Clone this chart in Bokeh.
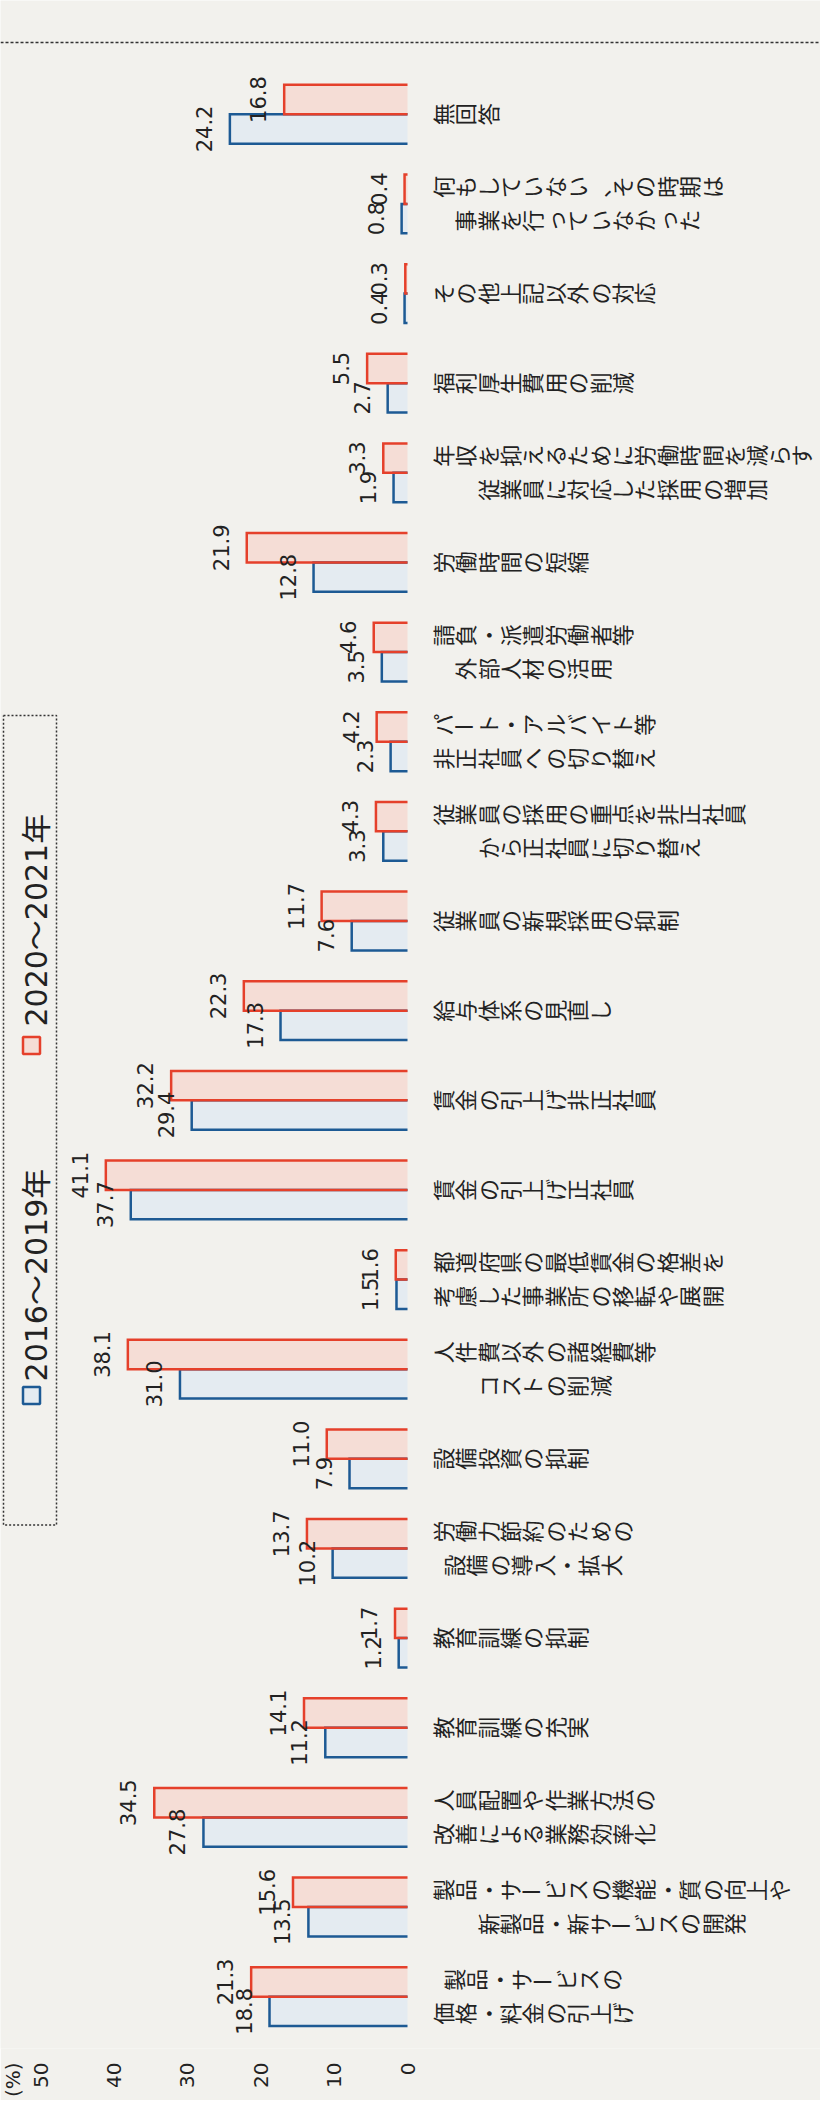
import math
from bokeh.plotting import figure
from bokeh.models import Range1d, FixedTicker, Span
from bokeh.core.properties import value
from bokeh.embed import file_html
from bokeh.resources import INLINE

# ---------------- data ----------------
label_lines = [
    ["製品・サービスの", "価格・料金の引上げ"],
    ["製品・サービスの機能・質の向上や", "新製品・新サービスの開発"],
    ["人員配置や作業方法の", "改善による業務効率化"],
    ["教育訓練の充実"],
    ["教育訓練の抑制"],
    ["労働力節約のための", "設備の導入・拡大"],
    ["設備投資の抑制"],
    ["人件費以外の諸経費等", "コストの削減"],
    ["都道府県の最低賃金の格差を", "考慮した事業所の移転や展開"],
    ["賃金の引上げ正社員"],
    ["賃金の引上げ非正社員"],
    ["給与体系の見直し"],
    ["従業員の新規採用の抑制"],
    ["従業員の採用の重点を非正社員", "から正社員に切り替え"],
    ["パート・アルバイト等", "非正社員への切り替え"],
    ["請負・派遣労働者等", "外部人材の活用"],
    ["労働時間の短縮"],
    ["年収を抑えるために労働時間を減らす", "従業員に対応した採用の増加"],
    ["福利厚生費用の削減"],
    ["その他上記以外の対応"],
    ["何もしていない、その時期は", "事業を行っていなかった"],
    ["無回答"],
]
v2016_2019 = [18.8, 13.5, 27.8, 11.2, 1.2, 10.2, 7.9, 31.0, 1.5, 37.7, 29.4,
              17.3, 7.6, 3.3, 2.3, 3.5, 12.8, 1.9, 2.7, 0.4, 0.8, 24.2]
v2020_2021 = [21.3, 15.6, 34.5, 14.1, 1.7, 13.7, 11.0, 38.1, 1.6, 41.1, 32.2,
              22.3, 11.7, 4.3, 4.2, 4.6, 21.9, 3.3, 5.5, 0.3, 0.4, 16.8]
tick_values = [0, 10, 20, 30, 40, 50]
unit_label = "(%)"
legend_labels = ["2016〜2019年", "2020〜2021年"]

# ---------------- layout constants ----------------
W, H = 820, 2100
FRAME_H = 2054
PX_X = 7.34      # px per percent
PX_Y = 89.9      # px per category
ZERO_PX = 407    # frame px of value 0
CAT0_PX = 2002   # frame px of first category centre

x_start = ZERO_PX / PX_X
x_end = -(W - ZERO_PX) / PX_X
y_top = CAT0_PX / PX_Y
y_bot = y_top - FRAME_H / PX_Y


def dx(px):
    return (ZERO_PX - px) / PX_X


def dy(py):
    return y_top - py / PX_Y


BG = "#f2f1ed"
RED_LINE = "#e5402b"
RED_FILL = "#f5ddd6"
BLUE_LINE = "#1d5a94"
BLUE_FILL = "#e4ebf1"
TXT = "#222222"
NUM_FONT = value("DejaVu Sans")
JP_FONT = value("Noto Sans CJK JP")

p = figure(width=W, height=H, output_backend="svg", toolbar_location=None,
           x_range=Range1d(x_start, x_end), y_range=Range1d(y_bot, y_top),
           x_axis_location="below", y_axis_location=None,
           min_border_left=0, min_border_right=0, min_border_top=0,
           min_border_bottom=H - FRAME_H)
p.background_fill_color = BG
p.border_fill_color = BG
p.outline_line_color = None
p.grid.visible = False

# ---------------- axis ----------------
unit_pos = 55.3
ax = p.xaxis[0]
ax.ticker = FixedTicker(ticks=tick_values + [unit_pos])
ax.major_label_overrides = {unit_pos: unit_label}
ax.major_label_orientation = math.pi / 2
ax.axis_line_color = None
ax.major_tick_line_color = None
ax.minor_tick_line_color = None
ax.major_tick_in = 0
ax.major_tick_out = 0
ax.major_label_standoff = 14
ax.major_label_text_font = "DejaVu Sans"
ax.major_label_text_font_size = "20px"
ax.major_label_text_color = TXT

# ---------------- top dashed separator ----------------
p.add_layout(Span(location=dy(42), dimension="width", line_color="#333333",
                  line_width=1.5, line_dash="3 2"))

# ---------------- bars ----------------
n = len(label_lines)
idx = list(range(n))
BH = 0.328
blue_y = [i - BH / 2 for i in idx]
red_y = [i + BH / 2 for i in idx]

p.hbar(y=blue_y, left=0, right=v2016_2019, height=BH, fill_color=BLUE_FILL,
       line_color=None)
p.hbar(y=red_y, left=0, right=v2020_2021, height=BH, fill_color=RED_FILL,
       line_color=None)


def outlines(vals, ys):
    xs, yy = [], []
    for v, y in zip(vals, ys):
        xs.append([0, v, v, 0])
        yy.append([y - BH / 2, y - BH / 2, y + BH / 2, y + BH / 2])
    return xs, yy


bx, byy = outlines(v2016_2019, blue_y)
rx, ryy = outlines(v2020_2021, red_y)
p.multi_line(bx, byy, line_color=BLUE_LINE, line_width=2.5, line_join="miter")
p.multi_line(rx, ryy, line_color=RED_LINE, line_width=2.5, line_join="miter")

# value labels
LAB_GAP = 26 / PX_X
p.text(x=[v + LAB_GAP for v in v2016_2019], y=blue_y,
       text=[f"{v:.1f}" for v in v2016_2019], angle=math.pi / 2,
       text_align="center", text_baseline="middle", text_font=NUM_FONT,
       text_font_size="21px", text_color=TXT)
p.text(x=[v + LAB_GAP for v in v2020_2021], y=red_y,
       text=[f"{v:.1f}" for v in v2020_2021], angle=math.pi / 2,
       text_align="center", text_baseline="middle", text_font=NUM_FONT,
       text_font_size="21px", text_color=TXT)

# ---------------- category labels (vertical Japanese, rotated) ----------------
CH = 22.4
LABEL_START = 430
LINE_OFF = 17
cx_l, cy_l, ct_l, ca_l = [], [], [], []
for i, lines in enumerate(label_lines):
    maxlen = max(len(s) for s in lines)
    nl = len(lines)
    for j, line in enumerate(lines):
        yo = 0 if nl == 1 else (LINE_OFF if j == 0 else -LINE_OFF)
        start = LABEL_START + (maxlen - len(line)) * CH / 2
        for k, ch in enumerate(line):
            cx_l.append(dx(start + (k + 0.5) * CH))
            cy_l.append(i + yo / PX_Y)
            ct_l.append(ch)
            ca_l.append(0.0 if ch == "ー" else math.pi / 2)
p.text(x=cx_l, y=cy_l, text=ct_l, angle=ca_l, text_align="center",
       text_baseline="middle", text_font=JP_FONT, text_font_size="22px",
       text_color=TXT)

# ---------------- legend ----------------
bx0, bx1, by0, by1 = 3, 56, 717, 1529
p.line(x=[dx(bx0), dx(bx1), dx(bx1), dx(bx0), dx(bx0)],
       y=[dy(by0), dy(by0), dy(by1), dy(by1), dy(by0)],
       line_color="#333333", line_width=1.5, line_dash="2 2")
p.scatter(x=[dx(31), dx(31)], y=[dy(1399), dy(1048)], marker="square", size=17,
          fill_color=[BLUE_FILL, RED_FILL], line_color=[BLUE_LINE, RED_LINE],
          line_width=2.5)
p.text(x=[dx(36), dx(36)], y=[dy(1385), dy(1029)], text=legend_labels,
       angle=math.pi / 2, text_align="left", text_baseline="middle",
       text_font=value("DejaVu Sans, Noto Sans CJK JP"), text_font_size="30px",
       text_color=TXT)

open("out.html", "w").write(file_html(p, INLINE))
